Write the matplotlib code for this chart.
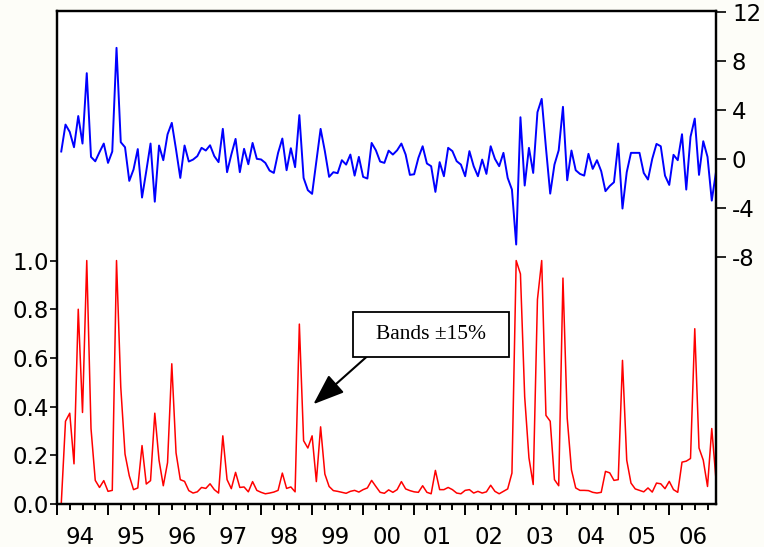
import numpy as np
import matplotlib.pyplot as plt
from matplotlib.patches import Rectangle

plt.rcParams['font.family'] = 'DejaVu Sans'
plt.rcParams['axes.unicode_minus'] = False

# monthly data, Jan 1994 - Dec 2006
start_year = 1994
years = ['94', '95', '96', '97', '98', '99', '00', '01', '02', '03', '04', '05', '06']

# red series (left axis)
band_prob = [
    0.0, 0.0, 0.34, 0.373, 0.165, 0.80, 0.376, 1.0, 0.31, 0.097, 0.068, 0.096,
    0.052, 0.056, 1.0, 0.48, 0.205, 0.116, 0.059, 0.066, 0.24, 0.082, 0.096, 0.373,
    0.18, 0.075, 0.17, 0.576, 0.21, 0.10, 0.093, 0.055, 0.045, 0.05, 0.068, 0.064,
    0.083, 0.059, 0.045, 0.28, 0.10, 0.063, 0.13, 0.068, 0.07, 0.05, 0.092, 0.056,
    0.048, 0.042, 0.045, 0.049, 0.056, 0.127, 0.064, 0.07, 0.05, 0.739, 0.26, 0.23,
    0.28, 0.092, 0.317, 0.123, 0.072, 0.055, 0.052, 0.048, 0.044, 0.052, 0.056, 0.049,
    0.059, 0.066, 0.097, 0.072, 0.048, 0.044, 0.058, 0.048, 0.059, 0.092, 0.062, 0.055,
    0.05, 0.048, 0.075, 0.048, 0.042, 0.138, 0.059, 0.059, 0.068, 0.059, 0.045, 0.042,
    0.056, 0.059, 0.045, 0.052, 0.045, 0.05, 0.077, 0.052, 0.042, 0.052, 0.062, 0.127,
    1.0, 0.945, 0.44, 0.19, 0.08, 0.84, 1.0, 0.364, 0.34, 0.10, 0.075, 0.928,
    0.353, 0.14, 0.066, 0.056, 0.056, 0.055, 0.048, 0.045, 0.048, 0.134, 0.128, 0.097,
    0.10, 0.59, 0.18, 0.086, 0.062, 0.056, 0.05, 0.066, 0.049, 0.086, 0.083, 0.063,
    0.093, 0.059, 0.048, 0.172, 0.176, 0.187, 0.72, 0.23, 0.18, 0.072, 0.31, 0.10,
]

# blue series (right axis), first month missing
change = [
    np.nan, 0.6, 2.8, 2.2, 0.95, 3.5, 1.25, 7.0, 0.16, -0.2, 0.55, 1.25,
    -0.33, 0.6, 9.07, 1.36, 0.95, -1.8, -0.87, 0.8, -3.16, -1.0, 1.25, -3.5,
    1.09, -0.11, 2.0, 2.94, 0.76, -1.56, 1.09, -0.22, -0.06, 0.22, 0.9, 0.68,
    1.11, 0.22, -0.27, 2.45, -1.09, 0.35, 1.63, -1.09, 0.82, -0.44, 1.3, 0.0,
    -0.05, -0.33, -0.96, -1.15, 0.49, 1.66, -0.93, 0.87, -0.68, 3.57, -1.56, -2.56,
    -2.86, -0.19, 2.45, 0.63, -1.47, -1.09, -1.17, -0.11, -0.47, 0.35, -1.37, 0.16,
    -1.47, -1.61, 1.3, 0.7, -0.22, -0.33, 0.67, 0.35, 0.7, 1.25, 0.35, -1.31,
    -1.26, 0.08, 1.03, -0.38, -0.6, -2.7, -0.27, -1.42, 0.9, 0.63, -0.19, -0.47,
    -1.42, 0.63, -0.6, -1.42, -0.06, -1.23, 1.03, 0.0, -0.6, 0.49, -1.56, -2.51,
    -7.0, 3.4, -2.18, 0.9, -1.15, 3.81, 4.9, 0.9, -2.84, -0.47, 0.7, 4.25,
    -1.75, 0.68, -0.93, -1.23, -1.37, 0.41, -0.82, -0.11, -1.01, -2.64, -2.22, -1.91,
    1.25, -4.06, -1.09, 0.49, 0.49, 0.49, -1.15, -1.69, 0.0, 1.22, 1.03, -1.37,
    -2.13, 0.33, -0.11, 2.01, -2.51, 1.8, 3.29, -1.31, 1.44, 0.16, -3.41, -1.06,
]

n = len(band_prob)
t = np.arange(n)

fig = plt.figure(figsize=(7.64, 5.47), dpi=100, facecolor='#fdfdf8')
ax = fig.add_axes([0.0746, 0.0786, 0.8626, 0.9004])
ax2 = ax.twinx()

ax.plot(t, band_prob, color='#ff0000', lw=1.1)
ax2.plot(t, change, color='#0000ff', lw=1.4)

ax.set_xlim(0, n - 1)
ax.set_ylim(0, 2.023)
ax2.set_ylim(-28.2, 12.04)

ax.set_yticks([0.0, 0.2, 0.4, 0.6, 0.8, 1.0])
ax.set_yticklabels(['0.0', '0.2', '0.4', '0.6', '0.8', '1.0'])
ax2.set_yticks([-8, -4, 0, 4, 8, 12])

# year boundaries long ticks, quarters short ticks
ax.set_xticks(np.arange(0, n, 12))
ax.set_xticks(np.arange(0, n, 3), minor=True)
ax.tick_params(axis='x', which='major', length=8, width=1.4, labelbottom=False)
ax.tick_params(axis='x', which='minor', length=4.5, width=1.4)
ax.tick_params(axis='y', length=5, width=1.2, pad=1, labelsize=16.5)
ax2.tick_params(axis='y', length=7.5, width=1.2, pad=4, labelsize=16.5)

sec = ax.secondary_xaxis('bottom')
sec.set_xticks(np.arange(len(years)) * 12 + 5.5, years)
sec.tick_params(length=0, pad=15.5, labelsize=16.5)
sec.spines['bottom'].set_visible(False)

for a in (ax, ax2):
    for s in a.spines.values():
        s.set_linewidth(1.6)

# annotation box
fig.patches.append(Rectangle((0.4617, 0.3479), 0.205, 0.0823, transform=fig.transFigure,
                             facecolor='white', edgecolor='black', lw=1.3, zorder=5))
fig.text(0.5641, 0.389, 'Bands \u00b115%', family='Liberation Serif', fontsize=15.5,
         ha='center', va='center', zorder=6)
ax.annotate('', xy=(60.3, 0.41), xycoords='data',
            xytext=(0.48, 0.3479), textcoords='figure fraction',
            arrowprops=dict(arrowstyle='-|>,head_length=1.6,head_width=0.6',
                            mutation_scale=12, color='black', lw=1.5,
                            shrinkA=0, shrinkB=0))

fig.savefig('out.png', dpi=100, facecolor=fig.get_facecolor())
